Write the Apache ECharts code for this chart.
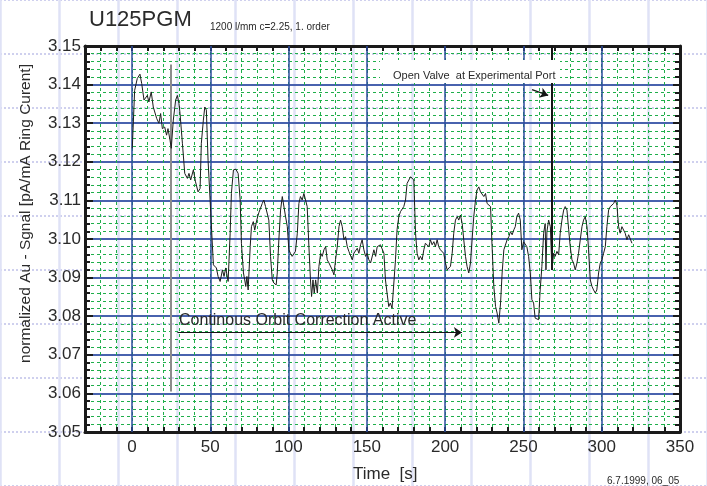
<!DOCTYPE html>
<html><head><meta charset="utf-8">
<script src="https://cdn.jsdelivr.net/npm/echarts@6/dist/echarts.min.js"></script>
<style>html,body{margin:0;padding:0;background:#fff;}#c{width:707px;height:486px;}</style>
</head><body><div id="c"></div>
<script>
// ---- data ----
const timeS = [0.2,1.7,3.4,5.1,6.2,7.7,9.8,10.8,12.3,13.6,15.8,17.2,18.3,19.4,20.9,22.1,23.0,24.3,25.1,26.4,27.9,29.0,30.0,30.7,32.2,33.7,35.4,36.4,37.5,39.2,40.6,42.2,43.5,44.3,45.6,46.5,47.5,48.6,49.9,51.4,52.0,53.9,55.0,56.3,57.8,58.8,59.9,61.4,62.7,63.5,64.8,66.3,67.8,69.1,69.9,71.2,72.0,72.7,73.4,74.2,75.5,76.3,77.5,78.4,79.7,81.0,83.2,84.2,85.3,86.3,87.4,88.5,89.6,90.6,92.1,92.8,93.8,94.9,96.0,97.0,98.1,99.2,100.2,101.2,102.3,103.4,104.4,105.6,106.6,107.6,108.7,109.8,110.8,111.9,113.0,114.0,114.7,115.6,116.4,117.3,118.4,119.4,120.5,121.5,122.6,123.7,124.7,125.8,126.9,127.9,129.0,130.0,131.1,132.2,133.2,134.3,135.4,136.4,137.5,138.5,139.6,140.7,141.7,142.8,143.9,144.9,146.0,147.0,148.1,149.2,150.2,151.3,152.4,153.4,154.5,155.6,156.6,157.7,158.7,159.8,160.9,161.9,162.9,164.0,165.0,166.1,167.2,168.3,169.3,170.4,171.5,172.5,173.6,174.7,175.7,176.8,177.9,178.9,180.0,181.1,182.1,183.2,184.2,185.3,186.4,187.4,188.5,189.6,190.6,191.7,192.8,193.8,194.9,195.9,197.0,198.1,199.1,200.2,201.3,202.3,203.4,204.5,205.5,206.6,207.7,208.7,209.8,210.9,211.9,213.0,214.0,215.1,216.2,217.2,218.3,219.4,220.4,221.5,222.6,223.6,224.7,225.8,226.8,227.9,229.0,230.0,231.1,232.2,233.2,234.3,235.4,236.4,237.5,238.6,239.6,240.7,241.7,242.8,243.9,244.8,245.8,246.9,248.0,249.0,250.1,251.2,252.2,253.3,254.4,255.4,256.5,257.5,258.6,259.7,260.7,261.8,262.9,263.9,264.4,265.0,266.1,267.2,268.2,269.3,270.3,271.4,272.5,273.5,274.6,275.7,276.7,277.8,278.9,279.9,281.0,282.0,283.1,284.2,285.2,286.3,287.4,288.4,289.5,290.6,291.6,292.7,293.8,294.8,295.9,296.9,298.0,299.1,300.1,301.2,302.3,303.3,304.4,305.5,306.5,307.6,308.7,309.7,310.8,311.8,312.9,314.0,315.0,316.1,317.2,318.2,319.3];
const signal = [3.1235,3.1385,3.1416,3.1427,3.1403,3.1360,3.1372,3.1355,3.1381,3.1342,3.1312,3.1300,3.1325,3.1286,3.1290,3.1269,3.1286,3.1256,3.1235,3.1308,3.1360,3.1372,3.1351,3.1325,3.1248,3.1170,3.1157,3.1170,3.1153,3.1179,3.1148,3.1122,3.1131,3.1248,3.1308,3.1342,3.1334,3.1204,3.1101,3.0980,3.0933,3.0925,3.0903,3.0890,3.0920,3.0903,3.0925,3.0890,3.1015,3.1118,3.1179,3.1181,3.1170,3.1101,3.0989,3.0912,3.0894,3.0877,3.0903,3.0868,3.0980,3.1032,3.1045,3.1023,3.1049,3.1068,3.1092,3.1101,3.1084,3.1088,3.1049,3.0955,3.0894,3.0886,3.0881,3.0912,3.0998,3.1075,3.1110,3.1110,3.1058,3.1032,3.0972,3.0963,3.0955,3.0955,3.0968,3.1015,3.1092,3.1110,3.1101,3.1118,3.1122,3.1084,3.0980,3.0894,3.0851,3.0894,3.0860,3.0894,3.0860,3.0929,3.0963,3.0955,3.0972,3.0980,3.0946,3.0938,3.0933,3.0920,3.0907,3.0946,3.0980,3.1032,3.1049,3.1032,3.0998,3.1006,3.0980,3.0968,3.0972,3.0946,3.0963,3.0968,3.0976,3.0963,3.0985,3.0998,3.0972,3.0955,3.0963,3.0946,3.0938,3.0942,3.0972,3.0955,3.0980,3.0976,3.0985,3.0980,3.0963,3.0894,3.0860,3.0825,3.0834,3.0821,3.0825,3.0946,3.1024,3.1058,3.1071,3.1067,3.1084,3.1101,3.1144,3.1148,3.1161,3.1165,3.1153,3.1015,3.0963,3.0946,3.0955,3.0946,3.0972,3.0989,3.0993,3.0980,3.0998,3.0985,3.0993,3.0980,3.0998,3.0980,3.0972,3.0976,3.0963,3.0938,3.0920,3.0925,3.0929,3.0963,3.1015,3.1049,3.1058,3.1049,3.1062,3.1040,3.0998,3.0955,3.0929,3.0912,3.0938,3.0998,3.1058,3.1101,3.1127,3.1135,3.1122,3.1118,3.1110,3.1118,3.1092,3.1097,3.1084,3.0980,3.0877,3.0825,3.0808,3.0782,3.0834,3.0912,3.0972,3.0968,3.0998,3.1006,3.1019,3.1011,3.1024,3.1032,3.1058,3.1067,3.1049,3.0972,3.0993,3.0989,3.0980,3.0955,3.0912,3.0843,3.0834,3.0795,3.0800,3.0791,3.0868,3.0929,3.1015,3.1040,3.0920,3.1019,3.1049,3.1032,3.0920,3.0963,3.0955,3.0968,3.0959,3.1015,3.1049,3.1075,3.1084,3.1075,3.1024,3.0980,3.0946,3.0938,3.0920,3.0938,3.0963,3.0998,3.1032,3.1049,3.1058,3.1032,3.0972,3.0894,3.0877,3.0868,3.0860,3.0868,3.0912,3.0938,3.0946,3.0963,3.0980,3.1032,3.1075,3.1084,3.1088,3.1092,3.1101,3.1088,3.1032,3.1015,3.1032,3.1036,3.1015,3.0998,3.1011,3.1015,3.0989];
const xMajorTicks = [0,50,100,150,200,250,300,350];
const xRange = [-30, 350];
const yRange = [3.05, 3.15];
const grayMarkerT = [24.6];           // time of gray vertical marker
const grayMarkerV = [3.1452, 3.0605]; // top, bottom
const valveMarkerT = [268.2];         // time of "Open Valve" marker
const valveMarkerV = [3.15, 3.092];
const valveArrowT = [255.5, 265.8];
const valveArrowV = [3.1387, 3.1372];
const orbitArrowT = [29, 210.7];
const orbitArrowV = [3.0758, 3.0758];
const titleText = 'U125PGM';
const subtitleText = '1200 l/mm c=2.25, 1. order';
const yName = 'normalized Au - Sgnal [pA/mA Ring Curent]';
const xName = 'Time  [s]';
const valveText = 'Open Valve  at Experimental Port';
const orbitText = 'Continous Orbit Correction Active';
const footerText = '6.7.1999, 06_05';

// ---- chart ----
const FONT = '"Liberation Sans", Arial, sans-serif';
const chart = echarts.init(document.getElementById('c'), null, {renderer: 'canvas'});
const pts = timeS.map((t, i) => [t, signal[i]]);
const blue = '#2d4b9e', green = '#1fae4a', lav = '#dfe2f6';

const option = {
  animation: false,
  backgroundColor: '#ffffff',
  grid: [
    {left: 85, top: 46, width: 595, height: 386, containLabel: false},
    {left: -49.3, top: -40.3, width: 771.6, height: 578.7, containLabel: false}
  ],
  xAxis: [
    {gridIndex: 0, type: 'value', min: xRange[0], max: xRange[1], interval: 10, position: 'bottom',
      axisLine: {show: true, onZero: false, lineStyle: {color: '#1a1a1a', width: 3}},
      axisTick: {show: true, inside: true, length: 5, lineStyle: {color: '#1a1a1a', width: 2}},
      axisLabel: {show: true, margin: 7, color: '#2a2a2a', fontSize: 17, fontFamily: FONT,
        formatter: v => (Math.round(v) % 50 === 0 ? String(Math.round(v)) : '')},
      splitLine: {show: true, lineStyle: {color: green, width: 1, type: [3, 3]}}},
    {gridIndex: 0, type: 'value', min: xRange[0], max: xRange[1], interval: 10, position: 'top',
      axisLine: {show: true, onZero: false, lineStyle: {color: '#1a1a1a', width: 3}},
      axisTick: {show: true, inside: true, length: 5, lineStyle: {color: '#1a1a1a', width: 2}},
      axisLabel: {show: false}, splitLine: {show: false}},
    {gridIndex: 1, type: 'value', min: 0, max: 12, interval: 1, z: -1,
      axisLine: {show: false}, axisTick: {show: false}, axisLabel: {show: false},
      splitLine: {show: true, lineStyle: {color: lav, width: 2.5}}}
  ],
  yAxis: [
    {gridIndex: 0, type: 'value', min: yRange[0], max: yRange[1], interval: 0.01, position: 'left',
      axisLine: {show: true, onZero: false, lineStyle: {color: '#1a1a1a', width: 3}},
      axisTick: {show: true, inside: true, length: 8, lineStyle: {color: '#1a1a1a', width: 2}},
      minorTick: {show: true, splitNumber: 5, length: 5, lineStyle: {color: '#1a1a1a', width: 2}},
      axisLabel: {show: true, margin: 4, color: '#2a2a2a', fontSize: 17, fontFamily: FONT,
        formatter: v => v.toFixed(2)},
      splitLine: {show: true, lineStyle: {color: '#4862ae', width: 1.8}},
      minorSplitLine: {show: true, lineStyle: {color: green, width: 1, type: [3, 3]}}},
    {gridIndex: 0, type: 'value', min: yRange[0], max: yRange[1], interval: 0.01, position: 'right',
      axisLine: {show: true, onZero: false, lineStyle: {color: '#1a1a1a', width: 3}},
      axisTick: {show: true, inside: true, length: 7, lineStyle: {color: '#1a1a1a', width: 2}},
      minorTick: {show: true, splitNumber: 5, length: 5, lineStyle: {color: '#1a1a1a', width: 2}},
      axisLabel: {show: false}, splitLine: {show: false}},
    {gridIndex: 1, type: 'value', min: 0, max: 9, interval: 1, inverse: true, z: -1,
      axisLine: {show: false}, axisTick: {show: false}, axisLabel: {show: false},
      splitLine: {show: true, lineStyle: {color: '#cfd0ee', width: 2, type: [2, 2]}}}
  ],
  series: [
    {type: 'line', xAxisIndex: 0, yAxisIndex: 0, data: [], z: 2, silent: true,
      markLine: {silent: true, symbol: ['none', 'none'], label: {show: false}, animation: false,
        lineStyle: {color: blue, width: 1.5, type: 'solid'},
        data: xMajorTicks.filter(v => v > xRange[0] && v < xRange[1]).map(v => ({xAxis: v}))}},
    {type: 'line', xAxisIndex: 0, yAxisIndex: 0, data: pts, z: 6, showSymbol: false, symbol: 'none',
      lineStyle: {color: '#1c1c1c', width: 1}, clip: true, silent: true},
    {type: 'line', xAxisIndex: 0, yAxisIndex: 0, data: [], z: 5, silent: true,
      markLine: {silent: true, symbol: ['none', 'none'], label: {show: false}, animation: false,
        lineStyle: {color: '#8c8c8c', width: 2, type: 'solid'},
        data: [[{coord: [grayMarkerT[0], grayMarkerV[0]]}, {coord: [grayMarkerT[0], grayMarkerV[1]]}]]}},
    {type: 'line', xAxisIndex: 0, yAxisIndex: 0, data: [], z: 20, silent: true,
      markLine: {silent: true, symbol: ['none', 'none'], label: {show: false}, animation: false,
        lineStyle: {color: '#151515', width: 2, type: 'solid'},
        data: [[{coord: [valveMarkerT[0], valveMarkerV[0]]}, {coord: [valveMarkerT[0], valveMarkerV[1]]}]]}},
    {type: 'line', xAxisIndex: 0, yAxisIndex: 0, data: [], z: 20, silent: true,
      markLine: {silent: true, symbol: ['none', 'arrow'], symbolSize: 8, label: {show: false}, animation: false,
        lineStyle: {color: '#151515', width: 1.2, type: 'solid'},
        data: [[{coord: [valveArrowT[0], valveArrowV[0]]}, {coord: [valveArrowT[1], valveArrowV[1]]}],
               [{coord: [orbitArrowT[0], orbitArrowV[0]]}, {coord: [orbitArrowT[1], orbitArrowV[1]]}]]}}
  ],
  graphic: [
    {type: 'rect', z: 10, shape: {x: 380, y: 60, width: 180, height: 23}, style: {fill: '#ffffff'}, silent: true},
    {type: 'text', z: 11, x: 393, y: 75.5, style: {text: valveText, font: '11px ' + FONT, fill: '#2a2a2a', verticalAlign: 'middle'}},
    {type: 'text', z: 11, x: 179, y: 321, style: {text: orbitText, font: '16px ' + FONT, fill: '#2a2a2a', verticalAlign: 'middle'}},
    {type: 'text', z: 11, x: 89, y: 20, style: {text: titleText, font: '22px ' + FONT, fill: '#2a2a2a', verticalAlign: 'middle'}},
    {type: 'text', z: 11, x: 210, y: 27, style: {text: subtitleText, font: '10px ' + FONT, fill: '#2a2a2a', verticalAlign: 'middle'}},
    {type: 'text', z: 11, x: 26, y: 213.5, rotation: Math.PI / 2, style: {text: yName, font: '15.5px ' + FONT, fill: '#2a2a2a', align: 'center', verticalAlign: 'middle'}},
    {type: 'text', z: 11, x: 353, y: 474.5, style: {text: xName, font: '17px ' + FONT, fill: '#2a2a2a', verticalAlign: 'middle'}},
    {type: 'text', z: 11, x: 607, y: 481, style: {text: footerText, font: '10px ' + FONT, fill: '#2a2a2a', verticalAlign: 'middle'}}
  ]
};
chart.setOption(option);
</script>
</body></html>
